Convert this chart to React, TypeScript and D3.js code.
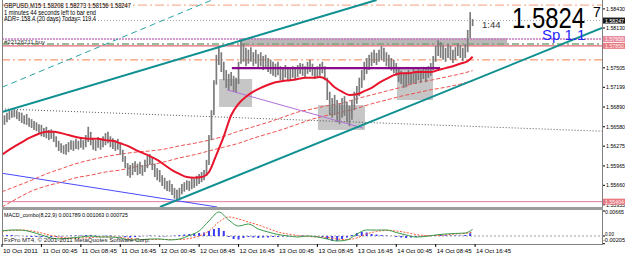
import React from "react";
import * as d3 from "d3";

// ---------- DATA ----------
// half-hour sampled price bars (index 0 = 10 Oct 16:45)
const barHigh = [
  1.5678,1.5676,1.5680,1.5683,1.5684,1.5687,1.5684,1.5681,1.5680,1.5676,
  1.5678,1.5672,1.5670,1.5667,1.5665,1.5662,1.5661,1.5656,1.5658,1.5653,
  1.5654,1.5651,1.5643,1.5636,1.5632,1.5629,1.5631,1.5634,1.5637,1.5636,
  1.5639,1.5636,1.5640,1.5637,1.5645,1.5658,1.5650,1.5640,1.5637,1.5642,
  1.5639,1.5643,1.5648,1.5650,1.5643,1.5640,1.5637,1.5639,1.5632,1.5622,
  1.5612,1.5601,1.5598,1.5601,1.5604,1.5600,1.5603,1.5598,1.5606,1.5612,
  1.5615,1.5609,1.5600,1.5593,1.5590,1.5582,1.5578,1.5573,1.5574,1.5568,
  1.5562,1.5559,1.5562,1.5568,1.5571,1.5574,1.5573,1.5578,1.5576,1.5581,
  1.5584,1.5587,1.5590,1.5606,1.5645,1.5684,1.5731,1.5771,1.5783,1.5775,
  1.5760,1.5747,1.5741,1.5744,1.5738,1.5735,1.5760,1.5794,1.5788,1.5782,
  1.5779,1.5783,1.5775,1.5779,1.5772,1.5775,1.5769,1.5771,1.5766,1.5763,
  1.5760,1.5757,1.5760,1.5753,1.5750,1.5755,1.5752,1.5749,1.5753,1.5750,
  1.5755,1.5758,1.5757,1.5753,1.5760,1.5763,1.5757,1.5752,1.5753,1.5757,
  1.5760,1.5753,1.5735,1.5713,1.5703,1.5708,1.5700,1.5694,1.5703,1.5706,
  1.5697,1.5691,1.5700,1.5713,1.5722,1.5735,1.5747,1.5760,1.5766,1.5771,
  1.5775,1.5779,1.5774,1.5779,1.5785,1.5782,1.5775,1.5771,1.5766,1.5763,
  1.5758,1.5750,1.5746,1.5741,1.5744,1.5747,1.5744,1.5749,1.5746,1.5750,
  1.5747,1.5752,1.5749,1.5753,1.5758,1.5769,1.5785,1.5794,1.5791,1.5786,
  1.5782,1.5788,1.5785,1.5779,1.5783,1.5789,1.5786,1.5782,1.5788,1.5810,
  1.5838,1.5827,
];
const barLow = [
  1.5662,1.5661,1.5665,1.5669,1.5672,1.5673,1.5670,1.5667,1.5664,1.5662,
  1.5661,1.5658,1.5656,1.5653,1.5651,1.5648,1.5643,1.5642,1.5640,1.5637,
  1.5639,1.5634,1.5626,1.5620,1.5617,1.5615,1.5614,1.5618,1.5622,1.5620,
  1.5623,1.5622,1.5625,1.5622,1.5626,1.5634,1.5629,1.5622,1.5620,1.5625,
  1.5622,1.5626,1.5629,1.5632,1.5626,1.5623,1.5620,1.5622,1.5614,1.5603,
  1.5593,1.5581,1.5578,1.5582,1.5587,1.5582,1.5584,1.5581,1.5587,1.5593,
  1.5598,1.5590,1.5579,1.5574,1.5571,1.5565,1.5560,1.5557,1.5556,1.5551,
  1.5545,1.5541,1.5546,1.5552,1.5556,1.5559,1.5557,1.5560,1.5562,1.5565,
  1.5568,1.5571,1.5574,1.5581,1.5598,1.5637,1.5676,1.5724,1.5755,1.5744,
  1.5731,1.5719,1.5716,1.5722,1.5713,1.5711,1.5725,1.5757,1.5760,1.5753,
  1.5757,1.5760,1.5753,1.5757,1.5750,1.5753,1.5747,1.5750,1.5744,1.5741,
  1.5738,1.5736,1.5739,1.5731,1.5731,1.5735,1.5731,1.5730,1.5735,1.5731,
  1.5736,1.5741,1.5738,1.5736,1.5741,1.5744,1.5738,1.5733,1.5735,1.5738,
  1.5742,1.5731,1.5700,1.5676,1.5672,1.5676,1.5665,1.5662,1.5672,1.5675,
  1.5665,1.5659,1.5669,1.5684,1.5694,1.5706,1.5719,1.5731,1.5741,1.5747,
  1.5753,1.5758,1.5755,1.5760,1.5763,1.5760,1.5753,1.5750,1.5746,1.5742,
  1.5738,1.5728,1.5725,1.5719,1.5720,1.5725,1.5724,1.5727,1.5725,1.5731,
  1.5727,1.5733,1.5728,1.5735,1.5738,1.5747,1.5760,1.5769,1.5766,1.5763,
  1.5760,1.5766,1.5763,1.5758,1.5763,1.5769,1.5766,1.5761,1.5766,1.5775,
  1.5797,1.5816,
];

// fast moving average (thick red), every 3 bars + last
const maFastIdx = [...d3.range(0, 190, 3), 191];
const maFast = [
  1.5614,1.5622,1.5629,1.5636,1.5642,1.5647,1.5650,1.5650,1.5648,1.5645,
  1.5642,1.5640,1.5639,1.5639,1.5637,1.5636,1.5632,1.5628,1.5622,1.5617,
  1.5612,1.5606,1.5598,1.5590,1.5584,1.5579,1.5578,1.5579,1.5587,1.5614,
  1.5643,1.5676,1.5694,1.5705,1.5713,1.5719,1.5724,1.5728,1.5730,1.5731,
  1.5733,1.5735,1.5735,1.5736,1.5731,1.5720,1.5713,1.5708,1.5709,1.5714,
  1.5719,1.5727,1.5733,1.5739,1.5742,1.5742,1.5744,1.5744,1.5744,1.5747,
  1.5750,1.5753,1.5757,1.5761,1.5768,
];
// slow moving averages (thin red), every 6 bars + last
const maSlowIdx = [...d3.range(0, 187, 6), 191];
const maMid = [
  1.5556,1.5565,1.5574,1.5584,1.5592,1.5600,1.5606,1.5611,1.5615,1.5618,
  1.5620,1.5623,1.5628,1.5632,1.5637,1.5643,1.5651,1.5658,1.5665,1.5673,
  1.5681,1.5686,1.5691,1.5695,1.5702,1.5708,1.5714,1.5720,1.5727,1.5731,
  1.5736,1.5741,1.5746,
];
const maSlow = [
  1.5532,1.5545,1.5557,1.5565,1.5571,1.5578,1.5582,1.5587,1.5590,1.5595,
  1.5598,1.5603,1.5609,1.5614,1.5620,1.5626,1.5632,1.5640,1.5647,1.5654,
  1.5662,1.5670,1.5676,1.5681,1.5687,1.5694,1.5700,1.5706,1.5711,1.5716,
  1.5720,1.5725,1.5730,
];

// MACD_combo(8,22,9)
const macdIdx = [...d3.range(0, 189, 4), 191];
const macdMain = [
  0.00133,0.0016,0.00155,0.00106,0.00027,-0.00053,-0.0008,-0.00053,-0.00027,0.0,
  -0.00027,-0.00025,-0.00053,-0.00106,-0.00104,-0.0008,-0.00078,-0.00106,-0.0008,0.00013,
  0.00133,0.004,0.00638,0.00426,0.00266,0.00319,0.00186,0.00106,0.0004,0.00002,
  -0.00027,0.0,-0.00025,-0.0008,-0.00133,-0.00106,0.00053,0.0016,0.00158,0.0016,
  0.00093,0.00027,-0.00027,-0.00013,0.00027,0.00053,0.00067,0.0008,0.001789,
];
const macdSignal = [
  0.00133,0.00146,0.0016,0.00133,0.0008,0.00013,-0.0004,-0.00053,-0.00053,-0.0004,
  -0.00027,-0.00027,-0.0004,-0.00067,-0.00093,-0.00093,-0.00093,-0.00093,-0.00093,-0.00067,
  0.0,0.00133,0.00372,0.00505,0.00452,0.00372,0.00293,0.002,0.00106,0.00053,
  0.00013,-0.00013,-0.00027,-0.0004,-0.0008,-0.00093,-0.00053,0.00053,0.0012,0.00146,
  0.00133,0.00093,0.0004,0.00013,0.00013,0.00027,0.00053,0.00067,0.001063,
];
const histIdx = d3.range(0, 191, 2);
const macdHist = [
  0.00013,0.00027,0.00027,0.00013,0.00003,-0.00013,-0.00027,-0.00025,-0.00027,-0.0003,
  -0.00026,-0.00024,-0.00014,-0.00004,0.00012,0.00015,0.00013,0.00024,0.00028,0.00014,
  0.00003,0.00011,0.00014,0.00002,-0.00012,-0.00026,-0.0004,-0.00029,-0.00013,0.00002,
  0.00013,0.00004,-0.00012,-0.00014,-0.00003,0.00012,0.00026,0.0004,0.00053,0.00066,
  0.0008,0.00093,0.00133,0.00186,0.00213,0.00135,-0.00027,-0.0008,-0.00093,-0.00053,
  -0.00027,-0.0004,-0.00053,-0.0004,-0.00038,-0.00027,-0.00025,-0.00014,-0.00012,-0.00003,
  0.00002,0.00013,0.00004,-0.00002,-0.00013,-0.00027,-0.0008,-0.00133,-0.0013,-0.0008,
  -0.0004,0.00027,0.0008,0.00106,0.00093,0.00053,0.0004,0.00027,0.00013,0.00002,
  -0.00027,-0.0004,-0.00053,-0.0004,-0.00027,-0.00013,0.00003,0.00013,0.00027,0.0004,
  0.00027,0.00013,0.00015,0.00012,0.00027,0.000725,
];

// trend lines: [bar index, price]
const channelUpper: [number, number][] = [[0, 1.5681], [152, 1.5857]];
const channelLower: [number, number][] = [[64.1, 1.5532], [243.5, 1.5813]];
const channelDashed: [number, number][] = [[0, 1.572], [85.2, 1.5857]];
const blueLine: [number, number][] = [[0, 1.5585], [87.3, 1.5532]];
const violetLine: [number, number][] = [[91.3, 1.5716], [146.5, 1.5656]];
const dottedLine: [number, number][] = [[0, 1.5686], [243.5, 1.5651]];
const purpleLevel: [number, number][] = [[93.3, 1.575], [177.8, 1.575]];

// rectangles: [bar index, price] corners
const zoneA: [number, number][] = [[88.1, 1.5733], [101.5, 1.5689]];
const zoneB: [number, number][] = [[128.2, 1.5692], [147.3, 1.5653]];
const zoneC: [number, number][] = [[160.3, 1.5752], [174.9, 1.57]];
const zoneTop: [number, number][] = [[96.6, 1.5797], [205, 1.5786]];

// horizontal levels
const levelTop = 1.5849;
const levelBid = 1.58247;
const levelPink = 1.57958;
const levelGreen = 1.5788;
const levelRed = 1.5785;
const levelOrange = 1.5763;
const levelBottom = 1.55404;

const priceTicks = [1.5843, 1.5813, 1.57505, 1.57199, 1.5689, 1.5658, 1.56275, 1.55965, 1.5566, 1.55355];
const macdTicks = [0.00665, 0, -0.00205];
const macdTickLabels = ["0.00665", "0.00", "-0.00205"];
const timeIdx = d3.range(0, 193, 16);
const timeLabels = [
  "10 Oct 2011", "11 Oct 00:45", "11 Oct 08:45", "11 Oct 16:45", "12 Oct 00:45",
  "12 Oct 08:45", "12 Oct 16:45", "13 Oct 00:45", "13 Oct 08:45", "13 Oct 16:45",
  "14 Oct 00:45", "14 Oct 08:45", "14 Oct 16:45",
];

const FONT = "'Liberation Sans', Arial, sans-serif";

export default function App() {
  const x = d3.scaleLinear().domain([0, 243.5]).range([2, 602]);
  const y = d3.scaleLinear().domain([1.5543, 1.5857]).range([200, 0]);
  const m = d3.scaleLinear().domain([-0.00205, 0.00665]).range([243.7, 211]);

  const seg = d3.line<[number, number]>().x((d) => x(d[0])).y((d) => y(d[1]));
  const maLine = (idx: number[]) =>
    d3.line<number>().x((_, i) => x(idx[i])).y((d) => y(d)).curve(d3.curveMonotoneX);
  const mLine = d3.line<number>().x((_, i) => x(macdIdx[i])).y((d) => m(d)).curve(d3.curveMonotoneX);

  const zoneRect = (z: [number, number][], fill: string, key: string) => (
    <rect key={key} x={x(z[0][0])} y={y(z[0][1])} width={x(z[1][0]) - x(z[0][0])}
      height={y(z[1][1]) - y(z[0][1])} fill={fill} />
  );
  const hLevel = (p: number, color: string, dash: string | undefined, w: number) => (
    <line x1={2} x2={602} y1={y(p)} y2={y(p)} stroke={color} strokeWidth={w} strokeDasharray={dash} />
  );

  const priceBox = (p: number, label: string, fill: string, color: string) => (
    <g key={label}>
      <rect x={603} y={y(p) - 3} width={22} height={6} fill={fill} />
      <text x={605} y={y(p) + 2.1} fontSize={5.6} fill={color} fontFamily={FONT} textLength={19} lengthAdjust="spacingAndGlyphs">{label}</text>
    </g>
  );

  return (
    <svg width={625} height={255} style={{ position: "absolute", left: 0, top: 0, display: "block" }}>
      <defs>
        <clipPath id="mainClip"><rect x={2} y={0} width={600} height={207} /></clipPath>
        <clipPath id="macdClip"><rect x={2} y={210} width={600} height={34} /></clipPath>
      </defs>
      <rect x={0} y={0} width={625} height={255} fill="#ffffff" />

      <g clipPath="url(#mainClip)">
        {zoneRect(zoneTop, "#bdb6b8", "zt")}
        {zoneRect(zoneA, "#c6c6c6", "za")}
        {zoneRect(zoneB, "#c6c6c6", "zb")}
        {zoneRect(zoneC, "#c6c6c6", "zc")}

        {hLevel(levelTop, "#f4a07c", "9 3 2 3", 1)}
        {hLevel(levelBid, "#a8a8a8", "1 2", 1)}
        {hLevel(levelPink, "#c77ac0", "2 1", 1.6)}
        {hLevel(levelGreen, "#78a878", "7 3 2 3", 1.4)}
        {hLevel(levelRed, "#e06a78", undefined, 1.4)}
        {hLevel(levelOrange, "#ff7f50", "8 3 2 3", 1)}
        {hLevel(levelBottom, "#e07aa0", undefined, 1)}

        <path d={seg(dottedLine)!} stroke="#555555" strokeWidth={1} strokeDasharray="1 2" fill="none" />
        <path d={seg(channelDashed)!} stroke="#2aa4a4" strokeWidth={1} strokeDasharray="6 4" fill="none" />
        <path d={seg(blueLine)!} stroke="#4848ff" strokeWidth={1} fill="none" />

        <path d={maLine(maSlowIdx)(maMid)!} stroke="#f05050" strokeWidth={1} strokeDasharray="4 2" fill="none" />
        <path d={maLine(maSlowIdx)(maSlow)!} stroke="#f05050" strokeWidth={1} strokeDasharray="4 2" fill="none" />

        {barHigh.map((h, i) => (
          <line key={i} x1={x(i)} x2={x(i)} y1={y(h)} y2={y(barLow[i])} stroke="#7c7c7c" strokeWidth={1.7} />
        ))}

        <path d={seg(violetLine)!} stroke="#b070d8" strokeWidth={1} fill="none" />
        <path d={seg(purpleLevel)!} stroke="#8a0a8a" strokeWidth={2.4} fill="none" />
        <path d={maLine(maFastIdx)(maFast)!} stroke="#e8142c" strokeWidth={2} fill="none" />
        <path d={seg(channelUpper)!} stroke="#109090" strokeWidth={2} fill="none" />
        <path d={seg(channelLower)!} stroke="#109090" strokeWidth={2} fill="none" />
      </g>

      {/* header texts */}
      <g fontFamily={FONT} fill="#000">
        <text x={4} y={8} fontSize={6.3} textLength={127} lengthAdjust="spacingAndGlyphs">GBPUSD,M15  1.58208 1.58273 1.58156 1.58247</text>
        <text x={4} y={14.8} fontSize={6.3} textLength={92} lengthAdjust="spacingAndGlyphs">1 minutes 44 seconds left to bar end</text>
        <text x={4} y={21.2} fontSize={6.3} textLength={92} lengthAdjust="spacingAndGlyphs">ADR= 158.4  (20 days) Today= 119.4</text>
        <text x={4} y={44} fontSize={5.8} fill="#333" textLength={41} lengthAdjust="spacingAndGlyphs">#22126211 buy</text>
        <text x={482} y={28.3} fontSize={9.5} fill="#333">1:44</text>
        <text x={512} y={28} fontSize={29} textLength={73} lengthAdjust="spacingAndGlyphs">1.5824</text>
        <text x={593} y={17} fontSize={14}>7</text>
        <text x={542} y={40} fontSize={15} fill="#2626ff">Sp 1.1</text>
      </g>

      {/* panel frames */}
      <line x1={2.5} x2={2.5} y1={0} y2={244} stroke="#808080" strokeWidth={1} />
      <line x1={602.5} x2={602.5} y1={0} y2={244} stroke="#808080" strokeWidth={1} />
      <rect x={2} y={207} width={601} height={3} fill="#9c9c9c" />
      <line x1={2} x2={603} y1={244.5} y2={244.5} stroke="#808080" strokeWidth={1} />

      {/* price axis */}
      <g fontFamily={FONT} fill="#000">
        {priceTicks.map((p) => (
          <g key={p}>
            <line x1={603} x2={605} y1={y(p)} y2={y(p)} stroke="#000" strokeWidth={1} />
            <text x={606} y={y(p) + 2} fontSize={5.8} textLength={19} lengthAdjust="spacingAndGlyphs">{p.toFixed(5)}</text>
          </g>
        ))}
      </g>
      {priceBox(levelBid, "1.58247", "#1a1a1a", "#ffffff")}
      {priceBox(levelPink, "1.57958", "#e88ca0", "#fff0f0")}
      {priceBox(levelRed, "1.57850", "#e87a82", "#fff0f0")}
      {priceBox(levelBottom, "1.55404", "#e87a82", "#fff0f0")}

      {/* MACD panel */}
      <line x1={2} x2={602} y1={m(0)} y2={m(0)} stroke="#a0a0a0" strokeWidth={1} strokeDasharray="2 2" />
      <g clipPath="url(#macdClip)">
        {macdHist.map((v, i) => (
          <rect key={i} x={x(histIdx[i]) - 1} width={2} y={Math.min(m(v), m(0))}
            height={Math.abs(m(v) - m(0))} fill="#3c3cf0" />
        ))}
        <path d={mLine(macdSignal)!} stroke="#ff5a3c" strokeWidth={1} strokeDasharray="2 1.5" fill="none" />
        <path d={mLine(macdMain)!} stroke="#3a9a4a" strokeWidth={1} fill="none" />
      </g>
      <g fontFamily={FONT} fill="#000">
        <text x={4} y={217} fontSize={5.8} textLength={124} lengthAdjust="spacingAndGlyphs">MACD_combo(8,22,9) 0.001789 0.001063 0.000725</text>
        <text x={4} y={241.5} fontSize={5.8} fill="#222" textLength={146} lengthAdjust="spacingAndGlyphs">FxPro MT4, © 2001-2011 MetaQuotes Software Corp.</text>
        {macdTicks.map((v, i) => (
          <g key={i}>
            <line x1={603} x2={605} y1={m(v)} y2={m(v)} stroke="#000" />
            <text x={i === 2 ? 603 : 605} y={(i === 2 ? m(v) - 2 : i === 0 ? m(v) + 2.5 : m(v) + 0.5)} fontSize={5.8}
              textLength={i === 1 ? 9 : i === 2 ? 22 : 19} lengthAdjust="spacingAndGlyphs">{macdTickLabels[i]}</text>
          </g>
        ))}
        {timeIdx.map((t, i) => (
          <g key={t}>
            <line x1={x(t)} x2={x(t)} y1={244} y2={247} stroke="#000" />
            <text x={x(t) + 1} y={252.5} fontSize={5.8} textLength={35} lengthAdjust="spacingAndGlyphs">{timeLabels[i]}</text>
          </g>
        ))}
      </g>
    </svg>
  );
}
